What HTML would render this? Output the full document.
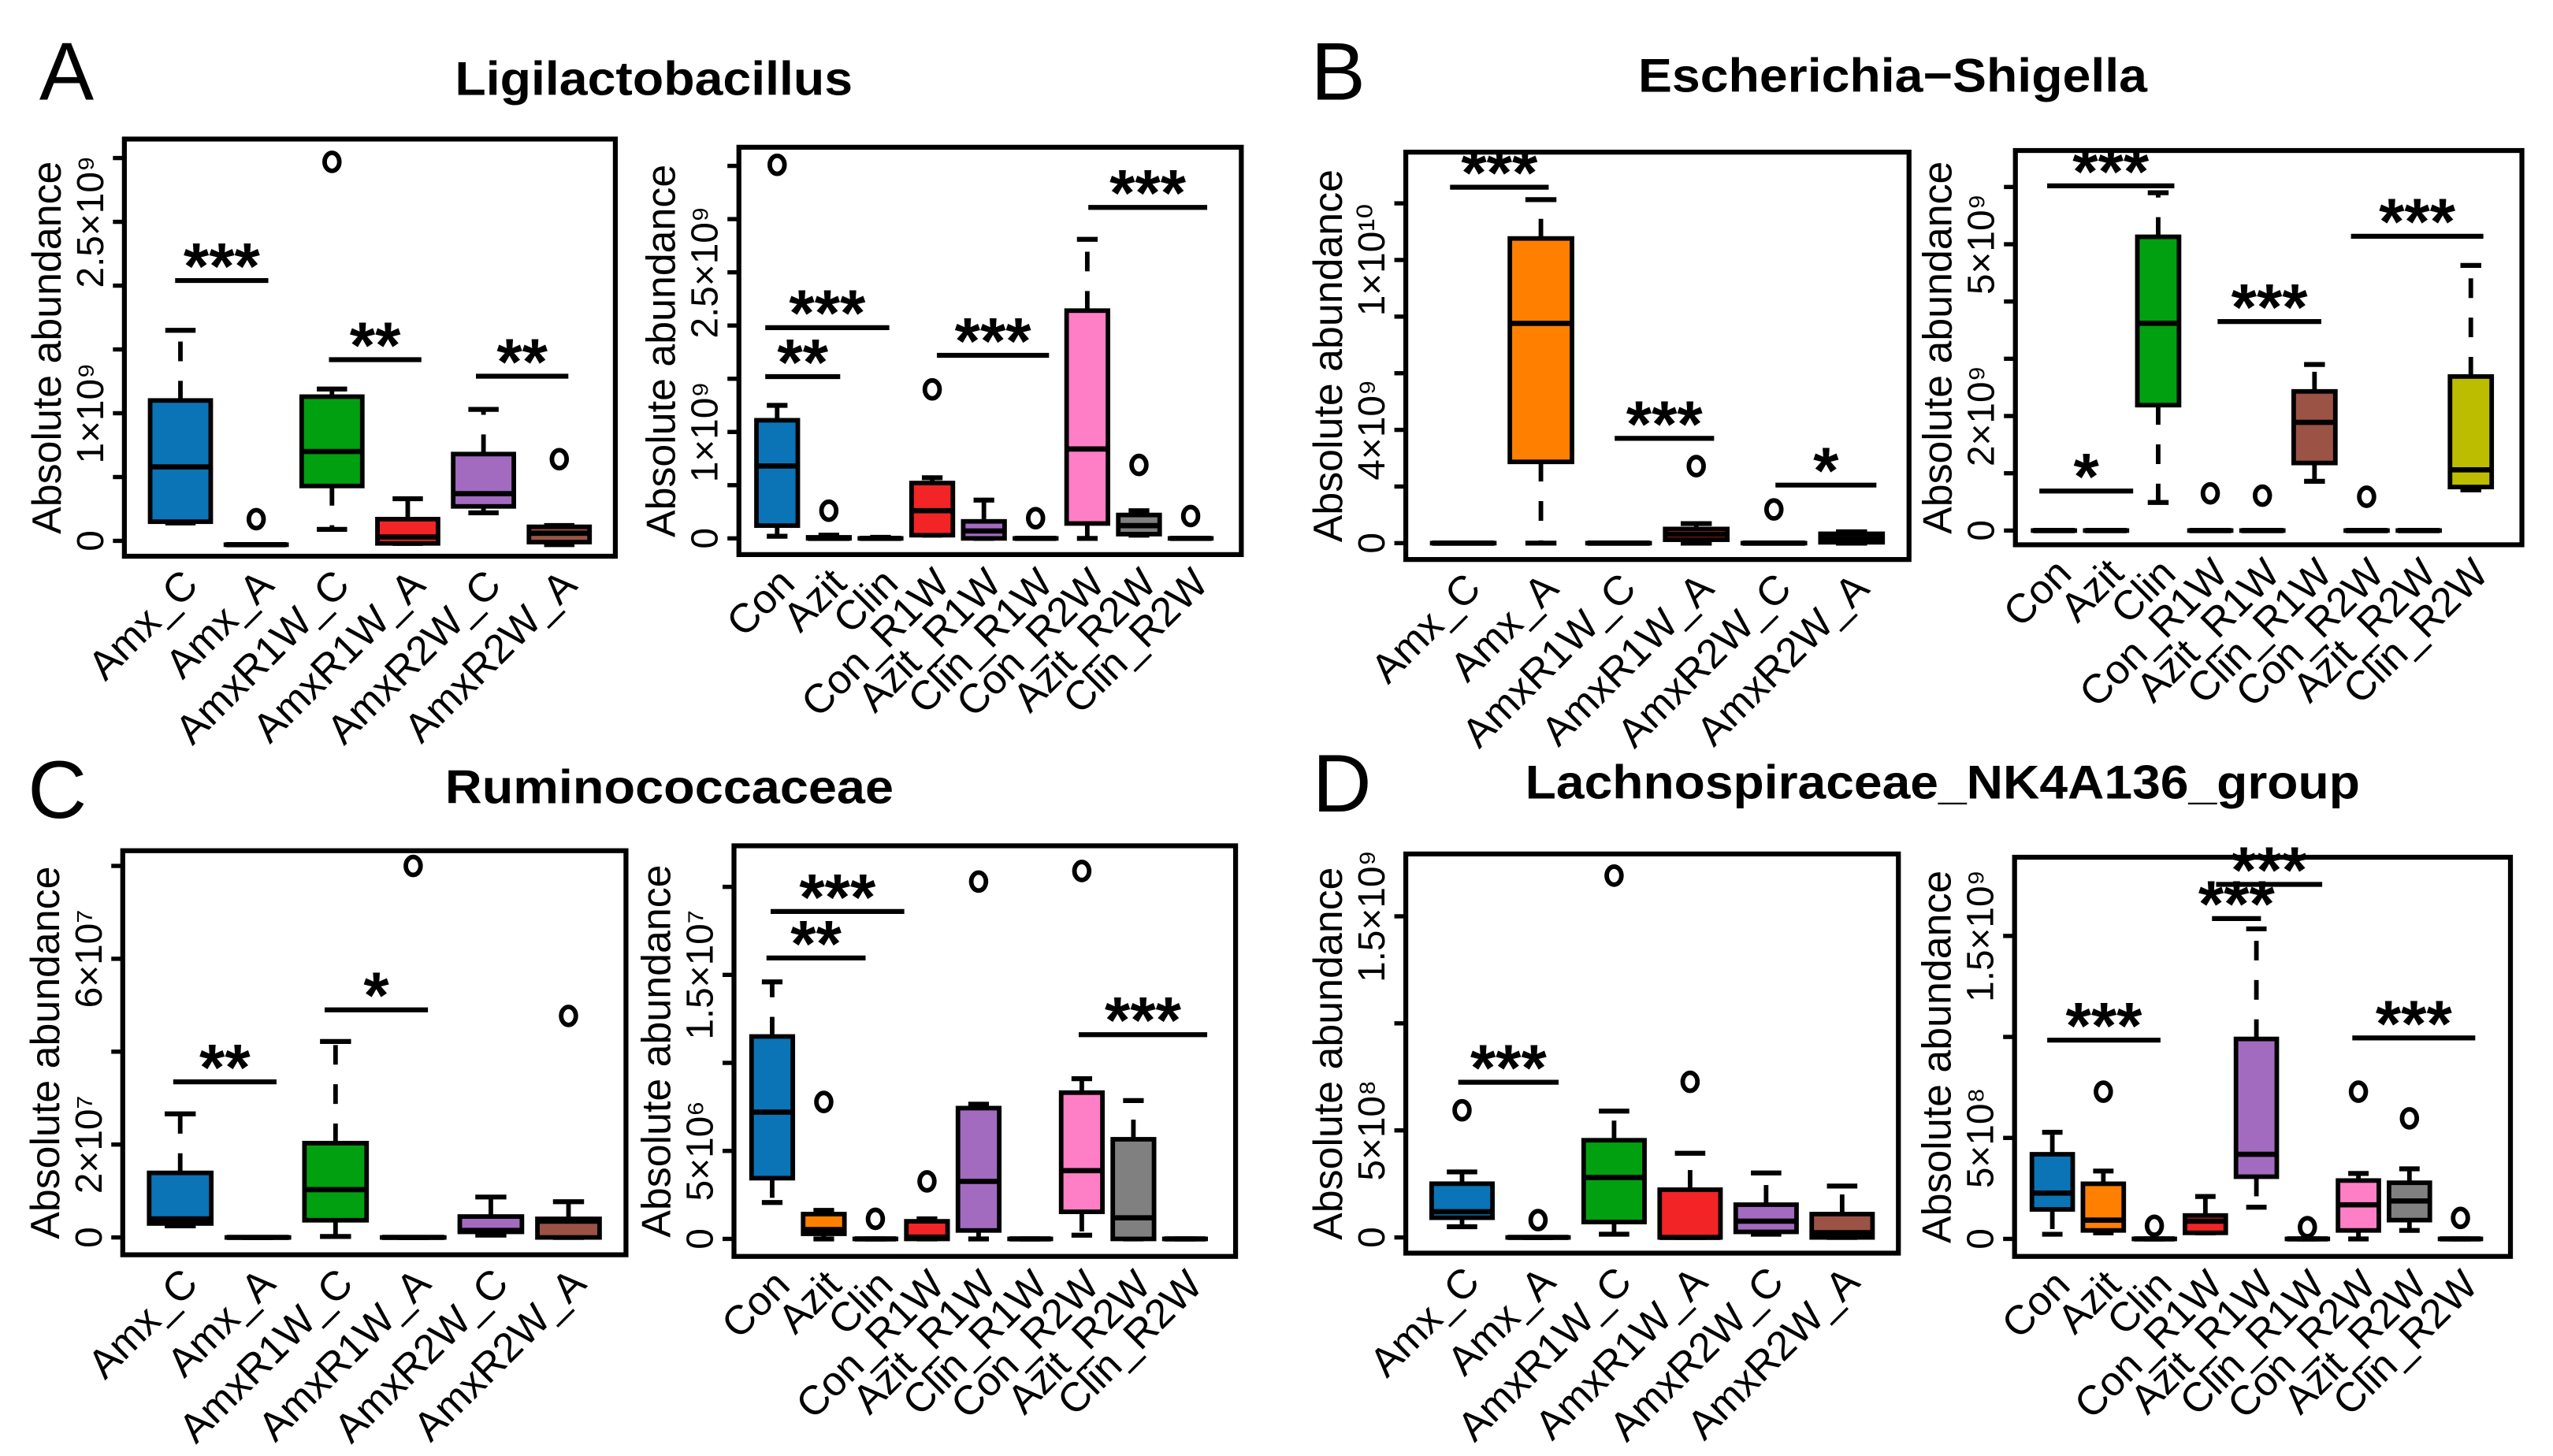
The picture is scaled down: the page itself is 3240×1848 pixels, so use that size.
<!DOCTYPE html>
<html><head><meta charset="utf-8"><style>
html,body{margin:0;padding:0;background:#fff}
svg{display:block}
text{font-family:"Liberation Sans",sans-serif}
</style></head><body>
<svg id="fig" width="3240" height="1848" viewBox="0 0 1560 890" preserveAspectRatio="none" xmlns="http://www.w3.org/2000/svg">
<rect x="0" y="0" width="1560" height="890" fill="#fff"/>
<text x="24" y="61" font-size="50">A</text>
<text x="801" y="61" font-size="50">B</text>
<text x="17" y="500" font-size="50">C</text>
<text x="802" y="496" font-size="50">D</text>
<text x="278" y="58" font-size="29" font-weight="bold" textLength="243" lengthAdjust="spacingAndGlyphs">Ligilactobacillus</text>
<text x="1001" y="56" font-size="29" font-weight="bold" textLength="311" lengthAdjust="spacingAndGlyphs">Escherichia−Shigella</text>
<text x="272" y="491" font-size="29" font-weight="bold" textLength="274" lengthAdjust="spacingAndGlyphs">Ruminococcaceae</text>
<text x="932" y="488" font-size="29" font-weight="bold" textLength="510" lengthAdjust="spacingAndGlyphs">Lachnospiraceae_NK4A136_group</text>
</svg>
<script>
// ---- categories ----
const catsLeft = ["Amx_C","Amx_A","AmxR1W_C","AmxR1W_A","AmxR2W_C","AmxR2W_A"];
const catsRight = ["Con","Azit","Clin","Con_R1W","Azit_R1W","Clin_R1W","Con_R2W","Azit_R2W","Clin_R2W"];
const colorsLeft = ["#0a74b6","#ff8000","#00a010","#f22426","#a26bc0","#9b5346"];
const colorsRight = ["#0a74b6","#ff8000","#00a010","#f22426","#a26bc0","#9b5346","#ff7fc6","#808080","#bdbd00"];

// ---- Panel A left (x1e9) ----
const A1_lo  = [0.14,-0.03,0.09,-0.02,0.22,-0.03];
const A1_q1  = [0.15,-0.03,0.43,-0.02,0.27,-0.01];
const A1_med = [0.58,-0.03,0.70,0.03,0.37,0.06];
const A1_q3  = [1.10,-0.03,1.13,0.17,0.68,0.11];
const A1_hi  = [1.65,-0.03,1.19,0.33,1.03,0.12];
const A1_outG = [2,3,6];
const A1_outV = [0.17,2.97,0.64];
const A1_ticks = [0,0.5,1,1.5,2,2.5,3];
const A1_tickLabelVals = [0,1,2.5];
const A1_tickLabels = ["0","1×10⁹","2.5×10⁹"];
const A1_sigVal = [2.04,1.42,1.29];
const A1_sigFrom = [0.93,2.96,4.90];
const A1_sigTo = [2.16,4.18,6.12];
const A1_sigText = ["***","**","**"];

// ---- Panel A right (x1e9) ----
const A2_lo  = [0.02,0,0,0.03,0,0,0,0.03,0];
const A2_q1  = [0.12,0,0,0.03,0,0,0.14,0.04,0];
const A2_med = [0.68,0,0,0.26,0.07,0,0.84,0.12,0];
const A2_q3  = [1.11,0.01,0,0.52,0.16,0,2.14,0.22,0];
const A2_hi  = [1.25,0.03,0.01,0.57,0.36,0,2.81,0.26,0];
const A2_outG = [1,2,4,6,8,9];
const A2_outV = [3.51,0.26,1.40,0.19,0.69,0.21];
const A2_ticks = [0,0.5,1,1.5,2,2.5,3,3.5];
const A2_tickLabelVals = [0,1,2.5];
const A2_tickLabels = ["0","1×10⁹","2.5×10⁹"];
const A2_sigVal = [1.52,1.98,1.72,3.11];
const A2_sigFrom = [0.77,0.77,4.09,7.02];
const A2_sigTo = [2.22,3.17,6.26,9.32];
const A2_sigText = ["**","***","***","***"];

// ---- Panel B left (x1e9) ----
const B1_lo  = [0,0,0,0,0,0];
const B1_q1  = [0,2.87,0,0.12,0,0.03];
const B1_med = [0,7.76,0,0.31,0,0.16];
const B1_q3  = [0,10.76,0,0.50,0,0.33];
const B1_hi  = [0,12.13,0,0.69,0,0.40];
const B1_outG = [4,5];
const B1_outV = [2.72,1.19];
const B1_ticks = [0,2,4,6,8,10,12];
const B1_tickLabelVals = [0,4,10];
const B1_tickLabels = ["0","4×10⁹","1×10¹⁰"];
const B1_sigVal = [12.57,3.70,2.05];
const B1_sigFrom = [0.83,2.95,5.02];
const B1_sigTo = [2.10,4.23,6.32];
const B1_sigText = ["***","***","*"];

// ---- Panel B right (x1e9) ----
const B2_lo  = [0,0,0.49,0,0,0.86,0,0,0.71];
const B2_q1  = [0,0,2.19,0,0,1.18,0,0,0.76];
const B2_med = [0,0,3.62,0,0,1.89,0,0,1.06];
const B2_q3  = [0,0,5.13,0,0,2.43,0,0,2.69];
const B2_hi  = [0,0,5.90,0,0,2.90,0,0,4.63];
const B2_outG = [4,5,7];
const B2_outV = [0.65,0.61,0.59];
const B2_ticks = [0,1,2,3,4,5,6];
const B2_tickLabelVals = [0,2,5];
const B2_tickLabels = ["0","2×10⁹","5×10⁹"];
const B2_sigVal = [6.02,0.69,3.65,5.14];
const B2_sigFrom = [0.87,0.72,4.14,6.70];
const B2_sigTo = [3.31,2.52,6.13,9.24];
const B2_sigText = ["***","*","***","***"];

// ---- Panel C left (x1e7) ----
const C1_lo  = [0.25,0,0.02,0,0.05,0];
const C1_q1  = [0.30,0,0.37,0,0.12,0];
const C1_med = [0.40,0,1.03,0,0.15,0.35];
const C1_q3  = [1.39,0,2.03,0,0.45,0.40];
const C1_hi  = [2.66,0,4.22,0,0.87,0.77];
const C1_outG = [4,6];
const C1_outV = [8.0,4.77];
const C1_ticks = [0,2,4,6,8];
const C1_tickLabelVals = [0,2,6];
const C1_tickLabels = ["0","2×10⁷","6×10⁷"];
const C1_sigVal = [3.35,4.90];
const C1_sigFrom = [0.91,2.86];
const C1_sigTo = [2.24,4.19];
const C1_sigText = ["**","*"];

// ---- Panel C right (x1e6) ----
const C2_lo  = [2.07,0,0,0,0,0,0.21,0,0];
const C2_q1  = [3.45,0.29,0,0,0.48,0,1.54,0,0];
const C2_med = [7.2,0.53,0,0.1,3.27,0,3.88,1.2,0];
const C2_q3  = [11.5,1.41,0,1.0,7.43,0,8.31,5.66,0];
const C2_hi  = [14.6,1.62,0,1.14,7.65,0,9.1,7.86,0];
const C2_outG = [2,3,4,5,7];
const C2_outV = [7.78,1.14,3.27,20.3,20.9];
const C2_ticks = [0,5,10,15,20];
const C2_tickLabelVals = [0,5,15];
const C2_tickLabels = ["0","5×10⁶","1.5×10⁷"];
const C2_sigVal = [15.96,18.6,11.6];
const C2_sigFrom = [0.89,0.97,6.94];
const C2_sigTo = [2.81,3.56,9.43];
const C2_sigText = ["**","***","***"];

// ---- Panel D left (x1e8) ----
const D1_lo  = [0.5,0,0.15,0,0.15,0];
const D1_q1  = [0.92,0,0.72,0,0.26,0];
const D1_med = [1.2,0,2.8,0,0.76,0.22];
const D1_q3  = [2.51,0,4.54,2.23,1.53,1.09];
const D1_hi  = [3.06,0,5.9,3.93,3.01,2.4];
const D1_outG = [1,2,3,4];
const D1_outV = [5.94,0.81,16.9,7.27];
const D1_ticks = [0,5,10,15];
const D1_tickLabelVals = [0,5,15];
const D1_tickLabels = ["0","5×10⁸","1.5×10⁹"];
const D1_sigVal = [7.25];
const D1_sigFrom = [0.95];
const D1_sigTo = [2.27];
const D1_sigText = ["***"];

// ---- Panel D right (x1e8) ----
const D2_lo  = [0.23,0.3,0,0.3,1.57,0,0,0.42,0];
const D2_q1  = [1.46,0.42,0,0.3,3.08,0,0.42,0.93,0];
const D2_med = [2.27,0.93,0,0.88,4.19,0,1.69,1.88,0];
const D2_q3  = [4.19,2.73,0,1.16,9.9,0,2.89,2.78,0];
const D2_hi  = [5.28,3.36,0,2.1,15.35,0,3.24,3.47,0];
const D2_outG = [2,3,6,7,8,9];
const D2_outV = [7.29,0.65,0.58,7.29,5.97,1.04];
const D2_ticks = [0,5,10,15];
const D2_tickLabelVals = [0,5,15];
const D2_tickLabels = ["0","5×10⁸","1.5×10⁹"];
const D2_sigVal = [9.84,15.86,17.55,9.95];
const D2_sigFrom = [0.90,4.13,4.21,6.88];
const D2_sigTo = [3.12,5.09,6.29,9.29];
const D2_sigText = ["***","***","***","***"];

const NS = "http://www.w3.org/2000/svg";
const svg = document.getElementById("fig");
function mk(tag, attrs, parent){
  const e = document.createElementNS(NS, tag);
  for (const k in attrs) e.setAttribute(k, attrs[k]);
  (parent||svg).appendChild(e);
  return e;
}

function panel(id, geom, cats, colors, d){
  const g = mk("g", {});
  
  
  const n = cats.length;
  const unit = (geom.x1 - geom.x0) / (n * 1.08);
  const xOf = p => geom.x0 + (p - 1 + 0.74) * unit;
  const yOf = v => geom.zeroY + (geom.refY - geom.zeroY) * (v / geom.refV);
  const hw = 0.4 * unit;
  const fr = mk("rect", {x:geom.x0, y:geom.y0, width:geom.x1-geom.x0, height:geom.y1-geom.y0, fill:"none", stroke:"#000", "stroke-width":3}, g);
  
  
  d.ticks.forEach(t => {
    const tk = mk("line", {x1:geom.x0-7, x2:geom.x0, y1:yOf(t), y2:yOf(t), stroke:"#000", "stroke-width":2.6}, g);
    
    
  });
  d.tickLabelVals.forEach((t,i) => {
    const x = geom.x0 - 13, y = yOf(t);
    const tl = mk("text", {x:x, y:y, "font-size":23, "text-anchor":"middle", transform:`rotate(-90 ${x} ${y})`}, g);
    tl.textContent = d.tickLabels[i];
    
    
  });
  const tx = geom.x0 - 39, ty = (geom.y0 + geom.y1) / 2;
  const yt = mk("text", {x:tx, y:ty, "font-size":25, "text-anchor":"middle", transform:`rotate(-90 ${tx} ${ty})`}, g);
  yt.textContent = "Absolute abundance";
  
  
  cats.forEach((c,i) => {
    const x = xOf(i+1) + 12, y = geom.y1 + 19;
    const xl = mk("text", {x:x, y:y, "font-size":25, "text-anchor":"end", transform:`rotate(-45 ${x} ${y})`}, g);
    xl.textContent = c;
    
    
  });
  for (let i = 0; i < n; i++){
    const cx = xOf(i+1);
    const bg = mk("g", {}, g);
    
    
    const yq1 = yOf(d.q1[i]), yq3 = yOf(d.q3[i]), ylo = yOf(d.lo[i]), yhi = yOf(d.hi[i]), ym = yOf(d.med[i]);
    mk("line", {x1:cx, x2:cx, y1:yq3, y2:yhi, stroke:"#000", "stroke-width":2.8, "stroke-dasharray":"12 12"}, bg);
    mk("line", {x1:cx, x2:cx, y1:yq1, y2:ylo, stroke:"#000", "stroke-width":2.8, "stroke-dasharray":"12 12"}, bg);
    mk("line", {x1:cx-hw/2, x2:cx+hw/2, y1:yhi, y2:yhi, stroke:"#000", "stroke-width":3}, bg);
    mk("line", {x1:cx-hw/2, x2:cx+hw/2, y1:ylo, y2:ylo, stroke:"#000", "stroke-width":3}, bg);
    mk("rect", {x:cx-hw, y:Math.min(yq1,yq3), width:2*hw, height:Math.max(0.01,Math.abs(yq1-yq3)), fill:colors[i], stroke:"#000", "stroke-width":2.8}, bg);
    mk("line", {x1:cx-hw, x2:cx+hw, y1:ym, y2:ym, stroke:"#000", "stroke-width":3.2}, bg);
  }
  d.outG.forEach((gi,k) => {
    const o = mk("ellipse", {cx:xOf(gi), cy:yOf(d.outV[k]), rx:4.5, ry:5.5, fill:"none", stroke:"#000", "stroke-width":2.8}, g);
    
    
  });
  d.sigVal.forEach((v,k) => {
    const y = yOf(v), xa = xOf(d.sigFrom[k]), xb = xOf(d.sigTo[k]);
    const sl = mk("line", {x1:xa, x2:xb, y1:y, y2:y, stroke:"#000", "stroke-width":3}, g);
    
    
    const st = mk("text", {x:(xa+xb)/2, y:y+5, "font-size":40, "font-weight":"bold", "text-anchor":"middle"}, g);
    st.textContent = d.sigText[k];
    
    
  });
}

function pack(lo,q1,med,q3,hi,outG,outV,ticks,tlv,tl,sv,sf,stt,sx){
  return {lo:lo,q1:q1,med:med,q3:q3,hi:hi,outG:outG,outV:outV,ticks:ticks,tickLabelVals:tlv,tickLabels:tl,sigVal:sv,sigFrom:sf,sigTo:stt,sigText:sx};
}

panel("a-left", {x0:76,x1:376,y0:85,y1:340,zeroY:330.6,refY:96.6,refV:3}, catsLeft, colorsLeft,
  pack(A1_lo,A1_q1,A1_med,A1_q3,A1_hi,A1_outG,A1_outV,A1_ticks,A1_tickLabelVals,A1_tickLabels,A1_sigVal,A1_sigFrom,A1_sigTo,A1_sigText));
panel("a-right", {x0:451.5,x1:758.5,y0:90,y1:339,zeroY:329.1,refY:101.4,refV:3.5}, catsRight, colorsRight,
  pack(A2_lo,A2_q1,A2_med,A2_q3,A2_hi,A2_outG,A2_outV,A2_ticks,A2_tickLabelVals,A2_tickLabels,A2_sigVal,A2_sigFrom,A2_sigTo,A2_sigText));
panel("b-left", {x0:859,x1:1166.5,y0:93,y1:342,zeroY:332,refY:124.3,refV:12}, catsLeft, colorsLeft,
  pack(B1_lo,B1_q1,B1_med,B1_q3,B1_hi,B1_outG,B1_outV,B1_ticks,B1_tickLabelVals,B1_tickLabels,B1_sigVal,B1_sigFrom,B1_sigTo,B1_sigText));
panel("b-right", {x0:1231.5,x1:1541,y0:92,y1:333,zeroY:324.3,refY:114.3,refV:6}, catsRight, colorsRight,
  pack(B2_lo,B2_q1,B2_med,B2_q3,B2_hi,B2_outG,B2_outV,B2_ticks,B2_tickLabelVals,B2_tickLabels,B2_sigVal,B2_sigFrom,B2_sigTo,B2_sigText));
panel("c-left", {x0:75,x1:382.5,y0:520,y1:767,zeroY:756.4,refY:529.3,refV:8}, catsLeft, colorsLeft,
  pack(C1_lo,C1_q1,C1_med,C1_q3,C1_hi,C1_outG,C1_outV,C1_ticks,C1_tickLabelVals,C1_tickLabels,C1_sigVal,C1_sigFrom,C1_sigTo,C1_sigText));
panel("c-right", {x0:448.5,x1:755,y0:517,y1:768,zeroY:757.3,refY:542.1,refV:20}, catsRight, colorsRight,
  pack(C2_lo,C2_q1,C2_med,C2_q3,C2_hi,C2_outG,C2_outV,C2_ticks,C2_tickLabelVals,C2_tickLabels,C2_sigVal,C2_sigFrom,C2_sigTo,C2_sigText));
panel("d-left", {x0:859,x1:1160,y0:522,y1:766,zeroY:756.4,refY:560.1,refV:15}, catsLeft, colorsLeft,
  pack(D1_lo,D1_q1,D1_med,D1_q3,D1_hi,D1_outG,D1_outV,D1_ticks,D1_tickLabelVals,D1_tickLabels,D1_sigVal,D1_sigFrom,D1_sigTo,D1_sigText));
panel("d-right", {x0:1231,x1:1534,y0:524,y1:768,zeroY:757.3,refY:572.1,refV:15}, catsRight, colorsRight,
  pack(D2_lo,D2_q1,D2_med,D2_q3,D2_hi,D2_outG,D2_outV,D2_ticks,D2_tickLabelVals,D2_tickLabels,D2_sigVal,D2_sigFrom,D2_sigTo,D2_sigText));
</script>
</body></html>
